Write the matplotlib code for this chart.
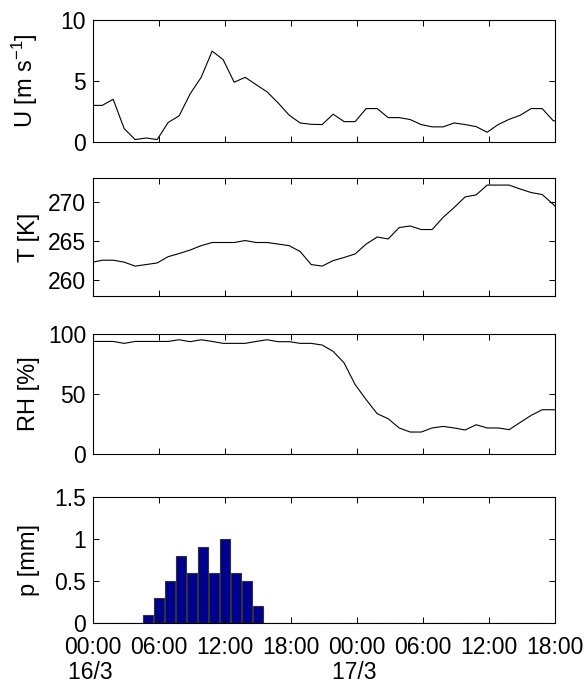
import numpy as np
import pandas as pd
import matplotlib
matplotlib.use('Agg')
import matplotlib.pyplot as plt

plt.rcParams['font.family'] = ['Liberation Sans', 'DejaVu Sans']
plt.rcParams['mathtext.fontset'] = 'custom'
plt.rcParams['mathtext.rm'] = 'Liberation Sans'
plt.rcParams['mathtext.it'] = 'Liberation Sans'

FS = 16.5      # tick labels
FS_LAB = 17    # axis labels

# hourly means, stamped at hh:50 (15/3 23:50 -> 17/3 18:50)
T0 = pd.Timestamp('2000-03-16 00:00')
stamps = pd.date_range('2000-03-15 23:50', periods=44, freq='h')
hours = (stamps - T0) / pd.Timedelta('1h')

wind = [3.0, 3.0, 3.5, 1.1, 0.2, 0.33, 0.2, 1.6, 2.15, 3.95,
        5.3, 7.45, 6.75, 4.9, 5.3, 4.7, 4.1, 3.2, 2.2, 1.56,
        1.45, 1.43, 2.28, 1.67, 1.67, 2.74, 2.74, 2.0, 2.0, 1.84,
        1.43, 1.24, 1.24, 1.56, 1.43, 1.26, 0.8, 1.43, 1.86, 2.19,
        2.74, 2.74, 1.75, 1.65]

temp = [262.25, 262.55, 262.55, 262.3, 261.8, 262.0, 262.2, 263.0, 263.4, 263.85,
        264.4, 264.8, 264.8, 264.8, 265.05, 264.8, 264.8, 264.6, 264.4, 263.65,
        262.0, 261.8, 262.5, 262.9, 263.35, 264.6, 265.5, 265.25, 266.7, 266.9,
        266.45, 266.45, 268.0, 269.25, 270.6, 270.85, 272.1, 272.1, 272.1, 271.6,
        271.15, 270.9, 269.65, 268.3]

rh = [93.8, 93.8, 93.8, 92.2, 93.8, 93.8, 93.8, 93.8, 95.2, 93.6,
      95.2, 93.8, 92.2, 92.2, 92.2, 93.8, 95.2, 93.6, 93.6, 92.2,
      92.2, 90.8, 85.5, 75.8, 57.8, 45.3, 33.6, 29.4, 21.7, 18.3,
      18.3, 21.7, 23.0, 21.7, 20.0, 24.4, 21.7, 21.7, 20.3, 26.3,
      32.2, 36.9, 36.9, 36.9]

# hourly precipitation, centred on the hour
p_hours = np.arange(42)
precip = [0, 0, 0, 0, 0, 0.1, 0.3, 0.5, 0.8, 0.6,
          0.9, 0.6, 1.0, 0.6, 0.5, 0.2, 0, 0, 0, 0,
          0, 0, 0, 0, 0, 0, 0, 0, 0, 0,
          0, 0, 0, 0, 0, 0, 0, 0, 0, 0,
          0, 0]

xticks = np.arange(0, 43, 6)
xticklabels = ['00:00\n16/3 ', '06:00', '12:00', '18:00',
               '00:00\n17/3 ', '06:00', '12:00', '18:00']

fig = plt.figure(figsize=(5.87, 6.84), dpi=100)

# panel boxes in pixels: top, bottom
W, H = 587, 684
L, R = 93, 555
boxes = [(20, 142), (178, 296), (334, 454), (497, 623)]
axes = [fig.add_axes([L / W, 1 - b / H, (R - L) / W, (b - t) / H]) for t, b in boxes]


def style(ax):
    ax.set_xlim(0, 42)
    ax.set_xticks(xticks)
    ax.tick_params(direction='in', length=4, width=0.7, top=True, right=True,
                   labelsize=FS, colors='black')
    ax.tick_params(axis='y', pad=5)
    ax.tick_params(axis='x', pad=9)
    for s in ax.spines.values():
        s.set_linewidth(0.8)
    ax.yaxis.set_label_coords(-0.115, 0.5)


# 1. wind speed
ax = axes[0]
ax.plot(hours, wind, color='black', linewidth=0.8)
ax.set_ylim(0, 10)
ax.set_yticks([0, 5, 10])
ax.set_ylabel('U [m s$^{-1}$]', fontsize=FS_LAB)
style(ax)
ax.set_xticklabels([])

# 2. temperature
ax = axes[1]
ax.plot(hours, temp, color='black', linewidth=0.8)
ax.set_ylim(258, 273)
ax.set_yticks([260, 265, 270])
ax.set_ylabel('T [K]', fontsize=FS_LAB)
style(ax)
ax.set_xticklabels([])

# 3. relative humidity
ax = axes[2]
ax.plot(hours, rh, color='black', linewidth=0.8)
ax.set_ylim(0, 100)
ax.set_yticks([0, 50, 100])
ax.set_ylabel('RH [%]', fontsize=FS_LAB)
style(ax)
ax.set_xticklabels([])

# 4. precipitation
ax = axes[3]
ax.bar(p_hours, precip, width=0.9, color='#00008F', edgecolor='#333333', linewidth=0.8)
ax.set_ylim(0, 1.5)
ax.set_yticks([0, 0.5, 1, 1.5])
ax.set_yticklabels(['0', '0.5', '1', '1.5'])
ax.set_ylabel('p [mm]', fontsize=FS_LAB)
style(ax)
ax.set_xticklabels(xticklabels, linespacing=1.15, va='top')

fig.savefig('out.png', dpi=100, facecolor='white')
